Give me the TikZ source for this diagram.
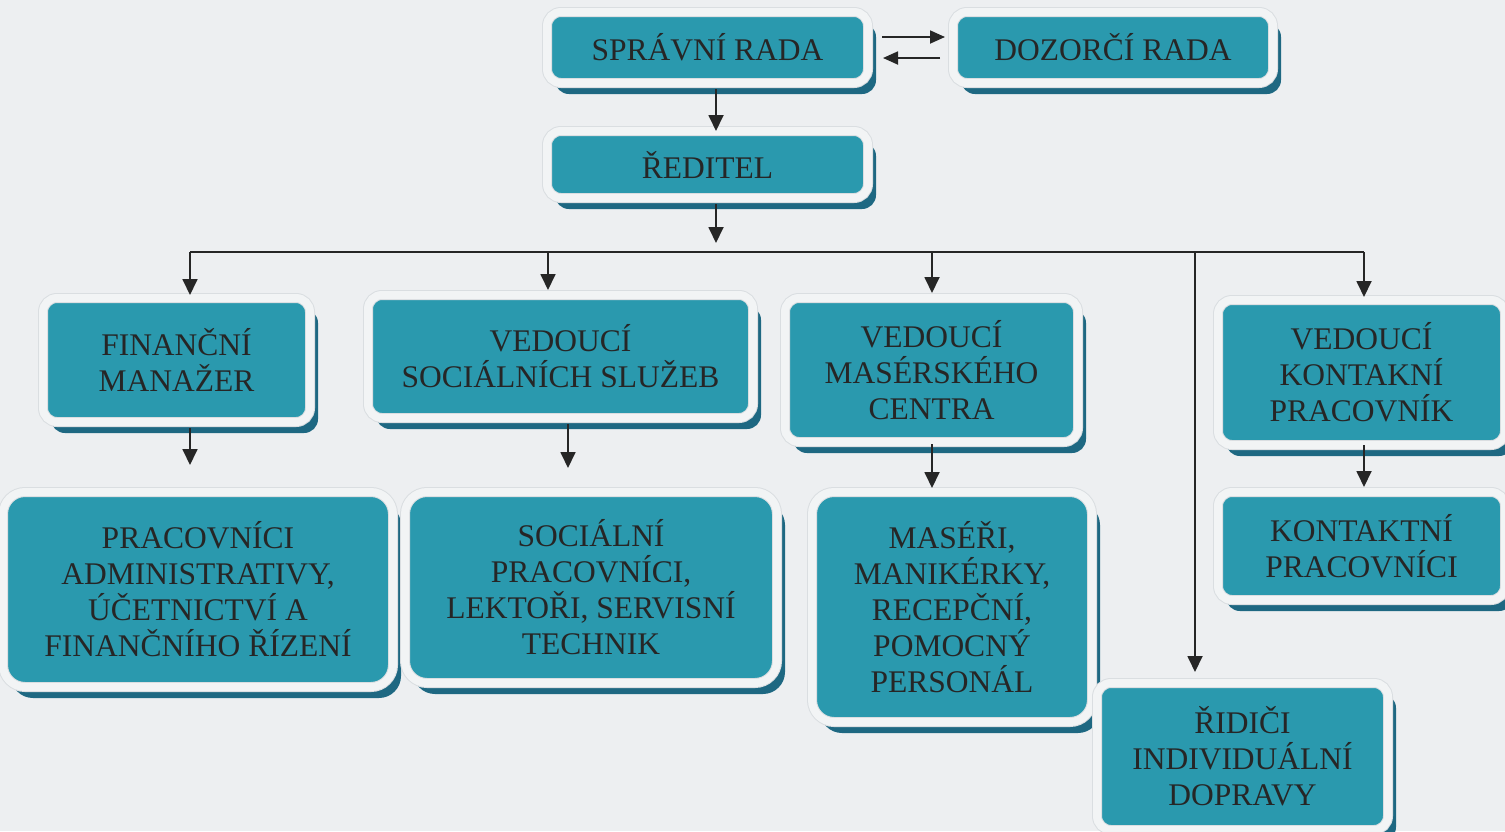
\documentclass[tikz,border=0pt]{standalone}
\usepackage{fontspec}
\setmainfont{Liberation Serif}
\usetikzlibrary{arrows.meta,shadows,calc}
\definecolor{bg}{RGB}{237,239,241}
\definecolor{tealfill}{RGB}{42,153,174}
\definecolor{shad}{RGB}{30,104,130}
\definecolor{halo}{RGB}{242,244,245}
\definecolor{haloedge}{RGB}{218,222,225}
\definecolor{ink}{RGB}{38,38,38}
\begin{document}
\begin{tikzpicture}[x=1pt,y=-1pt,
  orgbox/.style={rectangle, rounded corners=14pt, fill=tealfill, draw=haloedge,
    line width=1pt, double=halo, double distance=8pt, outer sep=0pt, inner sep=0pt,
    drop shadow={shadow xshift=8pt, shadow yshift=-11pt, fill=shad, opacity=1},
    text=ink, font=\rmfamily\fontsize{31.5}{36}\selectfont, align=center},
  bigbox/.style={orgbox, rounded corners=22pt},
  arr/.style={draw=ink, line width=1.8pt, -{Triangle[length=16pt,width=15pt]}},
  harr/.style={draw=ink, line width=1.8pt, -{Triangle[length=15pt,width=13pt]}},
  ln/.style={draw=ink, line width=1.8pt}]
\useasboundingbox (0,0) rectangle (1505,831);
\fill[bg] (0,0) rectangle (1505,831);

% top
\node[orgbox, minimum width=321pt, minimum height=71pt] (spr) at (707.5,47.5) {SPRÁVNÍ RADA};
\node[orgbox, minimum width=320pt, minimum height=71pt] (doz) at (1113,47.5) {DOZORČÍ RADA};
\node[orgbox, minimum width=321pt, minimum height=67pt] (red) at (707.5,164.5) {ŘEDITEL};

% middle row
\node[orgbox, minimum width=267pt, minimum height=124pt] (fin) at (176.5,360) {FINANČNÍ\\MANAŽER};
\node[orgbox, minimum width=385pt, minimum height=123pt] (soc) at (560.5,356.5) {VEDOUCÍ\\SOCIÁLNÍCH SLUŽEB};
\node[orgbox, minimum width=293pt, minimum height=144pt] (mas) at (931.5,370) {VEDOUCÍ\\MASÉRSKÉHO\\CENTRA};
\node[orgbox, minimum width=287pt, minimum height=145pt] (kon) at (1361.5,372.5) {VEDOUCÍ\\KONTAKNÍ\\PRACOVNÍK};

% lower row
\node[bigbox, minimum width=390pt, minimum height=195pt] (adm) at (198,589.5) {PRACOVNÍCI\\ADMINISTRATIVY,\\ÚČETNICTVÍ A\\FINANČNÍHO ŘÍZENÍ};
\node[bigbox, minimum width=372pt, minimum height=191pt] (socw) at (591,587.5) {SOCIÁLNÍ\\PRACOVNÍCI,\\LEKTOŘI, SERVISNÍ\\TECHNIK};
\node[bigbox, minimum width=280pt, minimum height=230pt] (masw) at (952,607) {MASÉŘI,\\MANIKÉRKY,\\RECEPČNÍ,\\POMOCNÝ\\PERSONÁL};
\node[orgbox, minimum width=287pt, minimum height=108pt] (konw) at (1361.5,546) {KONTAKTNÍ\\PRACOVNÍCI};
\node[orgbox, minimum width=291pt, minimum height=147pt] (rid) at (1242.5,756.5) {ŘIDIČI\\INDIVIDUÁLNÍ\\DOPRAVY};

% board <-> supervisory board
\draw[harr] ([xshift=14pt,yshift=10.5pt]spr.east) -- ([xshift=-8pt,yshift=10.5pt]doz.west);
\draw[harr] ([xshift=-13pt,yshift=-10.5pt]doz.west) -- ([xshift=15pt,yshift=-10.5pt]spr.east);

% board -> director
\coordinate (s1) at ([xshift=8.5pt]spr.south);
\draw[arr, shorten <=6pt] (s1) -- (s1 |- red.north);

% director -> bus
\coordinate (r1) at ([xshift=8.5pt]red.south);
\coordinate (bJ) at (716,252);
\draw[arr, shorten <=6pt, shorten >=9pt] (r1) -- (bJ);

% bus
\coordinate (bL) at (190,252);
\coordinate (bS) at (548,252);
\coordinate (bM) at (932,252);
\coordinate (bD) at (1195,252);
\coordinate (bR) at (1364,252);
\draw[ln] (bL) -- (bR);
\draw[arr, shorten >=3pt] (bL) -- (bL |- fin.north);
\draw[arr, shorten >=5pt] (bS) -- (bS |- soc.north);
\draw[arr, shorten >=5pt] (bM) -- (bM |- mas.north);
\draw[arr, shorten >=11pt] (bD) -- (bD |- rid.north);
\draw[arr, shorten >=3pt] (bR) -- (bR |- kon.north);

% heads -> staff
\coordinate (fa) at ([xshift=13.5pt]fin.south);
\draw[arr, shorten <=6pt, shorten >=27pt] (fa) -- (fa |- adm.north);
\coordinate (sa) at ([xshift=7.5pt]soc.south);
\draw[arr, shorten <=6pt, shorten >=24pt] (sa) -- (sa |- socw.north);
\coordinate (ma) at ([xshift=0.5pt]mas.south);
\draw[arr, shorten <=2pt, shorten >=4pt] (ma) -- (ma |- masw.north);
\coordinate (ka) at ([xshift=2.5pt]kon.south);
\draw[arr, shorten <=0pt, shorten >=5pt] (ka) -- (ka |- konw.north);
\end{tikzpicture}
\end{document}
